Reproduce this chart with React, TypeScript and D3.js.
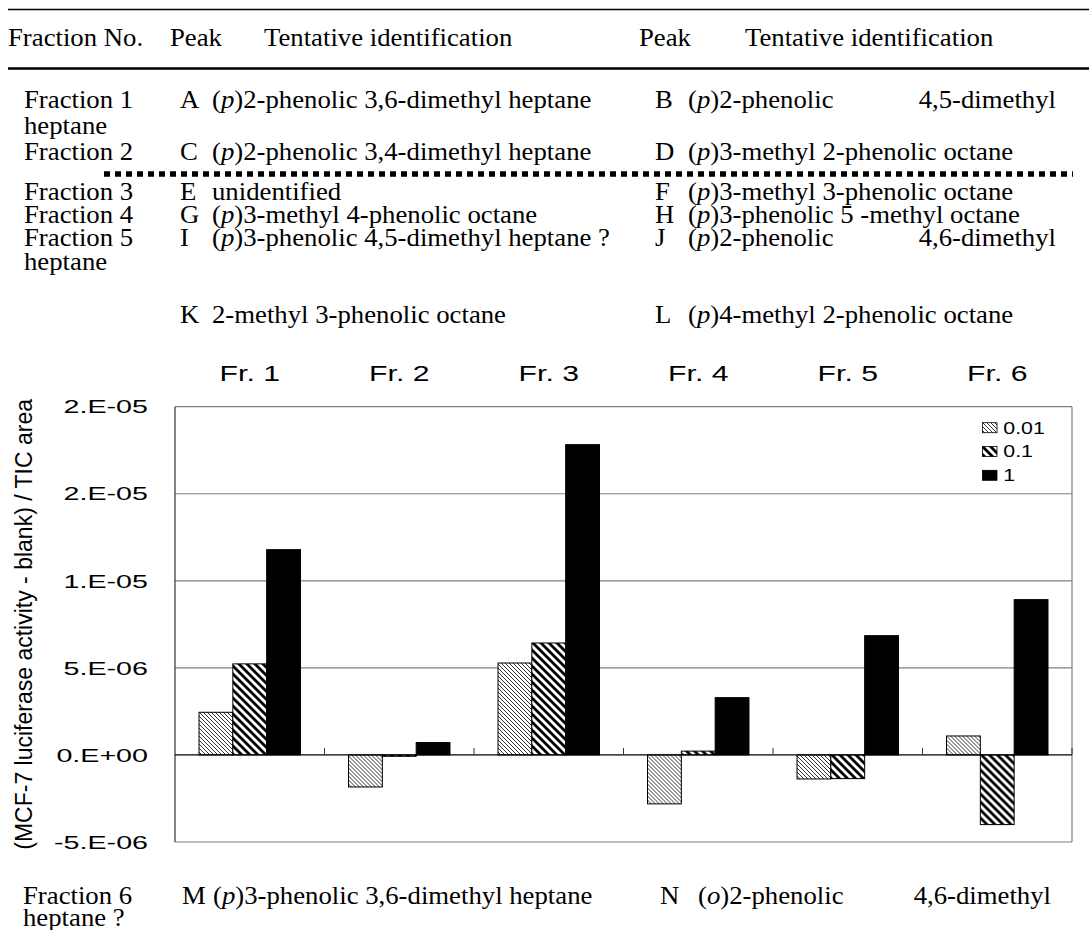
import { useRef, useEffect } from 'react';
import * as d3 from 'd3';

// chart values
const fractions = ['Fr. 1', 'Fr. 2', 'Fr. 3', 'Fr. 4', 'Fr. 5', 'Fr. 6'];
const doses = ['0.01', '0.1', '1'];
const dose001 = [2.45e-6, -1.84e-6, 5.28e-6, -2.81e-6, -1.38e-6, 1.09e-6];
const dose01 = [5.23e-6, -0.08e-6, 6.43e-6, 0.22e-6, -1.36e-6, -4.0e-6];
const dose1 = [11.79e-6, 0.71e-6, 17.82e-6, 3.29e-6, 6.85e-6, 8.92e-6];
const yTicks = [-5e-6, 0, 5e-6, 1e-5, 1.5e-5, 2e-5];
const yTickLabels = ['-5.E-06', '0.E+00', '5.E-06', '1.E-05', '2.E-05', '2.E-05'];
const yTitle = '(MCF-7 luciferase activity - blank) / TIC area';

// table text
const headers = ['Fraction No.', 'Peak', 'Tentative identification', 'Peak', 'Tentative identification'];
const fractionCol = ['Fraction 1', 'heptane', 'Fraction 2', 'Fraction 3', 'Fraction 4', 'Fraction 5', 'heptane', ''];
const peakLeft = ['A', '', 'C', 'E', 'G', 'I', '', 'K'];
const idLeft = [
  '(p)2-phenolic 3,6-dimethyl heptane', '', '(p)2-phenolic 3,4-dimethyl heptane', 'unidentified',
  '(p)3-methyl 4-phenolic octane', '(p)3-phenolic 4,5-dimethyl heptane ?', '', '2-methyl 3-phenolic octane',
];
const peakRight = ['B', '', 'D', 'F', 'H', 'J', '', 'L'];
const idRight = [
  '(p)2-phenolic', '', '(p)3-methyl 2-phenolic octane', '(p)3-methyl 3-phenolic octane',
  '(p)3-phenolic 5 -methyl octane', '(p)2-phenolic', '', '(p)4-methyl 2-phenolic octane',
];
const idRightTail = ['4,5-dimethyl', '', '', '', '', '4,6-dimethyl', '', ''];
const bottomRow = ['Fraction 6', 'M', '(p)3-phenolic 3,6-dimethyl heptane', 'N', '(o)2-phenolic', '4,6-dimethyl'];
const bottomWrap = 'heptane ?';

const SERIF = '"Liberation Serif", "Times New Roman", serif';
const SANS = '"Liberation Sans", Arial, sans-serif';

// write "(p)" / "(o)" with the letter in italics
function serifText(g: any, str: string, x: number, y: number, anchor = 'start') {
  const t = g.append('text')
    .attr('transform', `translate(${x},${y}) scale(1.07,1)`)
    .attr('text-anchor', anchor)
    .attr('font-family', SERIF)
    .attr('font-size', 25)
    .attr('fill', '#000');
  const m = str.match(/^\((\w)\)(.*)$/);
  if (m) {
    t.append('tspan').text('(');
    t.append('tspan').attr('font-style', 'italic').text(m[1]);
    t.append('tspan').text(')' + m[2]);
  } else {
    t.text(str);
  }
}

const App = () => {
  const svgRef = useRef<SVGSVGElement>(null);

  useEffect(() => {
    const svg = d3.select(svgRef.current);
    svg.selectAll('*').remove();

    // ---------- table ----------
    const table = svg.append('g');
    table.append('line').attr('x1', 8).attr('x2', 1089).attr('y1', 9.5).attr('y2', 9.5)
      .attr('stroke', '#000').attr('stroke-width', 1.5);
    table.append('line').attr('x1', 8).attr('x2', 1089).attr('y1', 68.5).attr('y2', 68.5)
      .attr('stroke', '#000').attr('stroke-width', 2.5);

    const headerX = [8, 170, 264, 639, 745];
    headers.forEach((h, i) => serifText(table, h, headerX[i], 46));

    const rowY = [108, 134, 160, 200, 223, 246, 270, 323];
    rowY.forEach((y, i) => {
      if (fractionCol[i]) serifText(table, fractionCol[i], 24, y);
      if (peakLeft[i]) serifText(table, peakLeft[i], 180, y);
      if (idLeft[i]) serifText(table, idLeft[i], 212, y);
      if (peakRight[i]) serifText(table, peakRight[i], 655, y);
      if (idRight[i]) serifText(table, idRight[i], 688, y);
      if (idRightTail[i]) serifText(table, idRightTail[i], 1056, y, 'end');
    });

    // thick dotted rule between Fraction 2 and Fraction 3
    table.append('line').attr('x1', 104).attr('x2', 1073).attr('y1', 174).attr('y2', 174)
      .attr('stroke', '#000').attr('stroke-width', 5.5).attr('stroke-dasharray', '6 5');

    serifText(table, bottomRow[0], 23, 904);
    serifText(table, bottomRow[1], 182, 904);
    serifText(table, bottomRow[2], 213, 904);
    serifText(table, bottomRow[3], 660, 904);
    serifText(table, bottomRow[4], 698, 904);
    serifText(table, bottomRow[5], 1051, 904, 'end');
    serifText(table, bottomWrap, 23, 926);

    // ---------- chart ----------
    const left = 175, right = 1072, top = 406.7, bottom = 842;

    const defs = svg.append('defs');
    const fine = defs.append('pattern').attr('id', 'hatchFine')
      .attr('patternUnits', 'userSpaceOnUse').attr('width', 4).attr('height', 4);
    fine.append('rect').attr('width', 4).attr('height', 4).attr('fill', '#fff');
    fine.append('path').attr('d', 'M-1,-1L5,5M-1,3L1,5M3,-1L5,1')
      .attr('stroke', '#000').attr('stroke-width', 0.8);
    const wide = defs.append('pattern').attr('id', 'hatchWide')
      .attr('patternUnits', 'userSpaceOnUse').attr('width', 8).attr('height', 8);
    wide.append('rect').attr('width', 8).attr('height', 8).attr('fill', '#fff');
    wide.append('path').attr('d', 'M-2,-2L10,10M-2,6L2,10M6,-2L10,2')
      .attr('stroke', '#000').attr('stroke-width', 2.8);

    const fills: Record<string, string> = {
      '0.01': 'url(#hatchFine)',
      '0.1': 'url(#hatchWide)',
      '1': '#000',
    };

    const y = d3.scaleLinear().domain([-5e-6, 2e-5]).range([bottom, top]);
    const x0 = d3.scaleBand().domain(fractions).range([left, right]);
    const x1 = d3.scaleBand().domain(doses).range([0, x0.bandwidth()])
      .paddingInner(0).paddingOuter(0.71);

    const chart = svg.append('g');

    // gridlines + frame
    chart.selectAll('line.grid')
      .data(yTicks.filter(t => t !== 0))
      .enter()
      .append('line')
      .attr('class', 'grid')
      .attr('x1', left).attr('x2', right)
      .attr('y1', d => y(d)).attr('y2', d => y(d))
      .attr('stroke', '#808080').attr('stroke-width', 1.2);
    chart.append('line').attr('x1', right).attr('x2', right).attr('y1', top).attr('y2', bottom)
      .attr('stroke', '#808080').attr('stroke-width', 1.2);
    chart.append('line').attr('x1', left).attr('x2', left).attr('y1', top).attr('y2', bottom)
      .attr('stroke', '#333').attr('stroke-width', 1.2);

    // bars
    const rows = fractions.map((f, i) => ({
      fraction: f,
      values: [
        { dose: '0.01', v: dose001[i] },
        { dose: '0.1', v: dose01[i] },
        { dose: '1', v: dose1[i] },
      ],
    }));

    chart.selectAll('g.group')
      .data(rows)
      .enter()
      .append('g')
      .attr('class', 'group')
      .attr('transform', d => `translate(${x0(d.fraction)},0)`)
      .selectAll('rect')
      .data(d => d.values)
      .enter()
      .append('rect')
      .attr('x', d => x1(d.dose)!)
      .attr('width', x1.bandwidth())
      .attr('y', d => y(Math.max(0, d.v)))
      .attr('height', d => Math.abs(y(d.v) - y(0)))
      .attr('fill', d => fills[d.dose])
      .attr('stroke', '#000')
      .attr('stroke-width', 1);

    // category axis on zero with upward ticks
    chart.append('line').attr('x1', left).attr('x2', right).attr('y1', y(0)).attr('y2', y(0))
      .attr('stroke', '#000').attr('stroke-width', 1.2);
    chart.selectAll('line.ctick')
      .data(fractions)
      .enter()
      .append('line')
      .attr('class', 'ctick')
      .attr('x1', d => x0(d)! + x0.bandwidth()).attr('x2', d => x0(d)! + x0.bandwidth())
      .attr('y1', y(0) - 7).attr('y2', y(0))
      .attr('stroke', '#333').attr('stroke-width', 1);

    // y tick labels
    chart.selectAll('text.ytick')
      .data(yTicks)
      .enter()
      .append('text')
      .attr('class', 'ytick')
      .attr('transform', d => `translate(148,${y(d) + 6.7}) scale(1.55,1)`)
      .attr('text-anchor', 'end')
      .attr('font-family', SANS)
      .attr('font-size', 18.5)
      .text((d, i) => yTickLabels[i]);

    // fraction labels above the plot
    chart.selectAll('text.xcat')
      .data(fractions)
      .enter()
      .append('text')
      .attr('class', 'xcat')
      .attr('transform', d => `translate(${x0(d)! + x0.bandwidth() / 2},380.7) scale(1.37,1)`)
      .attr('text-anchor', 'middle')
      .attr('font-family', SANS)
      .attr('font-size', 22)
      .text(d => d);

    // y title
    chart.append('text')
      .attr('transform', `translate(32,${(top + bottom) / 2}) rotate(-90)`)
      .attr('text-anchor', 'middle')
      .attr('font-family', SANS)
      .attr('font-size', 23)
      .text(yTitle);

    // legend
    const legend = chart.append('g');
    doses.forEach((d, i) => {
      const cy = 427.7 + i * 23.8;
      legend.append('rect')
        .attr('x', 982.5).attr('y', cy - 5).attr('width', 14.5).attr('height', 10)
        .attr('fill', fills[d]).attr('stroke', '#000').attr('stroke-width', 0.8);
      legend.append('text')
        .attr('transform', `translate(1003.3,${cy + 5.8}) scale(1.31,1)`)
        .attr('font-family', SANS)
        .attr('font-size', 16.3)
        .text(d);
    });
  }, []);

  return (
    <svg
      ref={svgRef}
      width={1089}
      height={930}
      style={{ position: 'absolute', left: 0, top: 0, background: '#fff' }}
    />
  );
};

export default App;
